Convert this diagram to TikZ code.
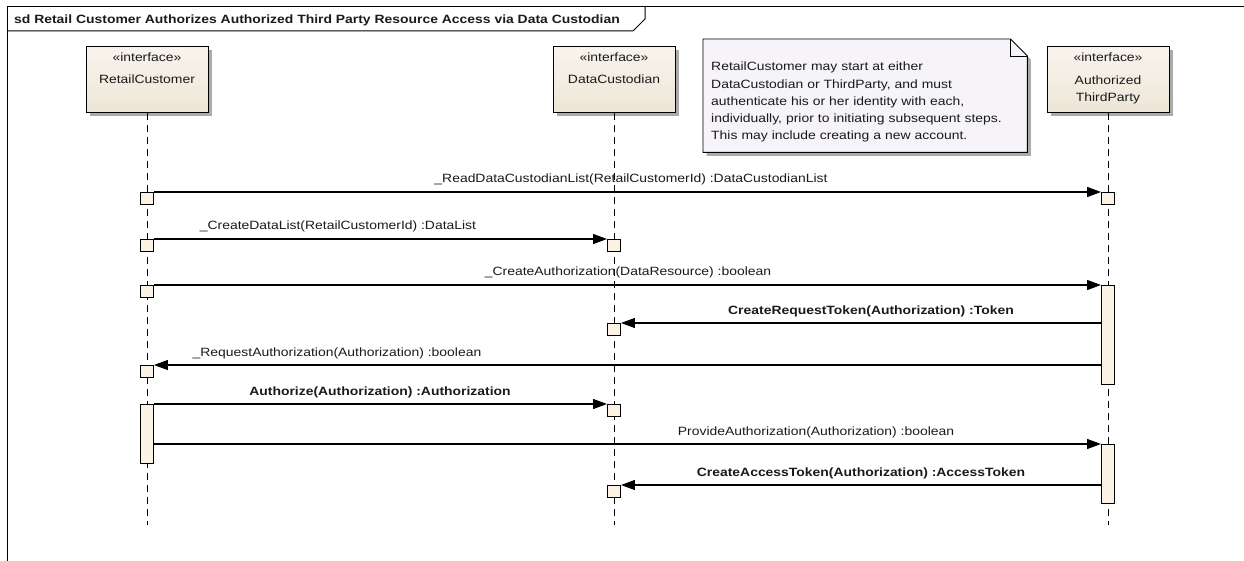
\documentclass[tikz,border=0pt]{standalone}
\usepackage{fontspec}
\setmainfont[FakeStretch=1.16]{Liberation Sans}
\usetikzlibrary{arrows.meta,shadows}
\definecolor{hdrtop}{HTML}{F8F4ED}
\definecolor{hdrbot}{HTML}{EDE5D7}
\definecolor{actfill}{HTML}{FDF3E4}
\definecolor{notefill}{HTML}{F6F4F8}
\definecolor{shadowc}{HTML}{ABABAB}
\definecolor{ink}{HTML}{1A1A1A}
\begin{document}
\begin{tikzpicture}[x=1pt,y=-1pt,
  txt/.style={font=\fontsize{12}{17.2}\selectfont, inner sep=0pt, text=ink},
  btxt/.style={font=\fontsize{12}{17.2}\selectfont\bfseries, inner sep=0pt, text=ink},
  head/.style={draw=black, line width=0.9pt, top color=hdrtop, bottom color=hdrbot, minimum width=122pt, minimum height=66pt, inner sep=0pt, anchor=north,
    drop shadow={shadow xshift=3.5pt, shadow yshift=-3.5pt, fill=shadowc, opacity=1}},
  life/.style={line width=0.9pt, dash pattern=on 7pt off 5pt},
  actbox/.style={draw=black, line width=0.9pt, fill=actfill, minimum width=13pt, minimum height=12pt, inner sep=0pt, anchor=north},
  msg/.style={line width=1.1pt, -{Triangle[length=14pt,width=10pt]}},
  frameline/.style={line width=1pt}
]
\useasboundingbox (0,0) rectangle (1244,561);

% frame
\draw[frameline] (1244,7) -- (7,7) -- (7,561);
\draw[frameline] (7,31) -- (633,31) -- (645,19) -- (645,7);
\node[btxt, anchor=base west] (title) at (14,24) {sd Retail Customer Authorizes Authorized Third Party Resource Access via Data Custodian};

% lifeline heads
\node[head] (rc) at (147,46) {};
\node[head] (dc) at (614,46) {};
\node[head] (tp) at (1108,46) {};
\node[txt, anchor=base] (rcs) at (147,62) {«interface»};
\node[txt, anchor=base] (rcn) at (147,83.5) {RetailCustomer};
\node[txt, anchor=base] (dcs) at (614,62) {«interface»};
\node[txt, anchor=base] (dcn) at (614,83.5) {DataCustodian};
\node[txt, anchor=base] (tps) at (1108,62) {«interface»};
\node[txt, anchor=base] (tpn) at (1108,84.5) {Authorized};
\node[txt, anchor=base] (tpn2) at (1108,101.5) {ThirdParty};

% lifelines
\coordinate (rcend) at (147,525);
\coordinate (dcend) at (614,525);
\coordinate (tpend) at (1108,525);
\draw[life] (rc.south) -- (rcend);
\draw[life] (dc.south) -- (dcend);
\draw[life] (tp.south) -- (tpend);

% note
\node[minimum width=324pt, minimum height=113pt, anchor=north west, inner sep=0pt] (note) at (703,39) {};
\draw[line width=0.9pt, fill=notefill, drop shadow={shadow xshift=3.5pt, shadow yshift=-3.5pt, fill=shadowc, opacity=1}]
  (note.north west) -- ([xshift=-17pt]note.north east) -- ([yshift=-17pt]note.north east)
  -- (note.south east) -- (note.south west) -- cycle;
\draw[line width=0.9pt] ([xshift=-17pt]note.north east) -- ([xshift=-17pt,yshift=-17pt]note.north east) -- ([yshift=-17pt]note.north east);
\node[txt, anchor=base west, text width=318pt, align=left] (notetxt) at (711,71) {RetailCustomer may start at either\\DataCustodian or ThirdParty, and must\\authenticate his or her identity with each,\\individually, prior to initiating subsequent steps.\\This may include creating a new account.};

% activations
\node[actbox] (r1) at (147,192) {};
\node[actbox] (t1) at (1108,192) {};
\node[actbox] (r2) at (147,239) {};
\node[actbox] (d1) at (614,239) {};
\node[actbox] (r3) at (147,285) {};
\node[actbox, minimum height=99pt] (tb1) at (1108,285) {};
\node[actbox] (d2) at (614,323) {};
\node[actbox] (r4) at (147,365) {};
\node[actbox, minimum height=59pt] (rb1) at (147,404) {};
\node[actbox] (d3) at (614,404) {};
\node[actbox, minimum height=59pt] (tb2) at (1108,444) {};
\node[actbox] (d4) at (614,485) {};

% messages
\draw[msg] (r1.north east) -- (t1.north west);
\draw[msg] (r2.north east) -- (d1.north west);
\draw[msg] (r3.north east) -- (tb1.north west);
\draw[msg] (tb1.west |- d2.north) -- (d2.north east);
\draw[msg] (tb1.west |- r4.north) -- (r4.north east);
\draw[msg] (rb1.north east) -- (d3.north west);
\draw[msg] (rb1.east |- tb2.north) -- (tb2.north west);
\draw[msg] (tb2.west |- d4.north) -- (d4.north east);

% labels
\node[txt, anchor=base] (l1) at (631,183) {\_ReadDataCustodianList(RetailCustomerId) :DataCustodianList};
\node[txt, anchor=base] (l2) at (338,230) {\_CreateDataList(RetailCustomerId) :DataList};
\node[txt, anchor=base] (l3) at (628,276) {\_CreateAuthorization(DataResource) :boolean};
\node[btxt, anchor=base] (l4) at (871,314) {CreateRequestToken(Authorization) :Token};
\node[txt, anchor=base] (l5) at (337,356) {\_RequestAuthorization(Authorization) :boolean};
\node[btxt, anchor=base] (l6) at (380,395) {Authorize(Authorization) :Authorization};
\node[txt, anchor=base] (l7) at (816,435) {ProvideAuthorization(Authorization) :boolean};
\node[btxt, anchor=base] (l8) at (861,476) {CreateAccessToken(Authorization) :AccessToken};
\end{tikzpicture}
\end{document}
